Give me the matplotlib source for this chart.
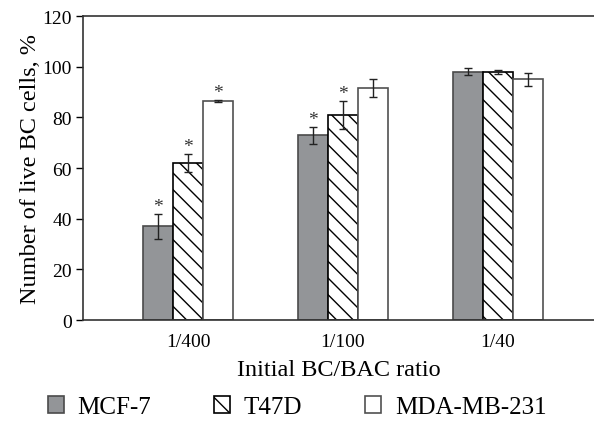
import numpy as np
import matplotlib.pyplot as plt
from matplotlib.patches import Patch

plt.rcParams['font.family'] = ['Liberation Serif', 'DejaVu Serif']
plt.rcParams['hatch.linewidth'] = 1.0

ratios = ['1/400', '1/100', '1/40']
lines = ['MCF-7', 'T47D', 'MDA-MB-231']
mcf7 = [37, 73, 98]
mcf7_err = [4.8, 3.4, 1.4]
t47d = [62, 81, 98]
t47d_err = [3.5, 5.5, 0.8]
mda = [86.5, 91.5, 95]
mda_err = [0.5, 3.5, 2.5]
# significance marks (* above the error bar)
mcf7_sig = [True, True, False]
t47d_sig = [True, True, False]
mda_sig = [True, False, False]

fig = plt.figure(figsize=(5.94, 4.27), dpi=100)
ax = fig.add_axes([0.140, 0.248, 0.860, 0.712])

x = np.arange(len(ratios))
w = 0.195
styles = [
    dict(color='#939598', edgecolor='#4a4a4a', hatch=None),
    dict(color='white', edgecolor='black', hatch='\\\\'),
    dict(color='white', edgecolor='#505050', hatch=None),
]
series = [(mcf7, mcf7_err, mcf7_sig), (t47d, t47d_err, t47d_sig), (mda, mda_err, mda_sig)]

for i, ((vals, errs, sig), st) in enumerate(zip(series, styles)):
    pos = x + (i - 1) * w
    ax.bar(pos, vals, w, color=st['color'], edgecolor=st['edgecolor'],
           hatch=st['hatch'], linewidth=1.2, zorder=2)
    ax.errorbar(pos, vals, yerr=errs, fmt='none', ecolor='#222222',
                elinewidth=1.0, capsize=3, capthick=1.0, zorder=3)
    for p, v, e, s in zip(pos, vals, errs, sig):
        if s:
            ax.text(p, v + e - 0.5, '*', ha='center', va='bottom',
                    fontsize=14, color='#333333')

ax.set_xlim(-0.677, 2.62)
ax.set_ylim(0, 120)
ax.set_yticks(range(0, 121, 20))
ax.set_xticks(x)
ax.set_xticklabels(ratios)
ax.tick_params(axis='y', labelsize=14, length=5, width=1, direction='out', pad=3)
ax.tick_params(axis='x', labelsize=14, length=0, pad=9)
ax.spines['right'].set_visible(False)
for s in ['left', 'top', 'bottom']:
    ax.spines[s].set_linewidth(1.2)
    ax.spines[s].set_color('#333333')

ax.set_ylabel('Number of live BC cells, %', fontsize=17.5, labelpad=1)
ax.set_xlabel('Initial BC/BAC ratio', fontsize=17.5, labelpad=7)

handles = [Patch(facecolor=st['color'], edgecolor=st['edgecolor'], hatch=st['hatch'],
                 linewidth=1.2) for st in styles]
fig.legend(handles, lines, loc='lower center', bbox_to_anchor=(0.5, -0.035),
           ncol=3, frameon=False, fontsize=18, handlelength=0.65, handleheight=0.65,
           columnspacing=2.5, handletextpad=0.55)

fig.savefig('out.png', dpi=100)
